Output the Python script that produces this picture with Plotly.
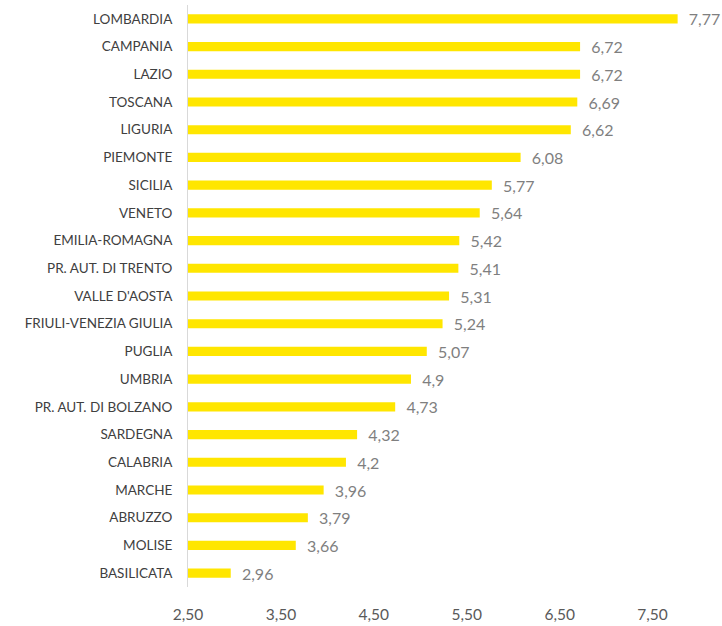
import plotly.graph_objects as go

regions = [
    "LOMBARDIA", "CAMPANIA", "LAZIO", "TOSCANA", "LIGURIA", "PIEMONTE", "SICILIA",
    "VENETO", "EMILIA-ROMAGNA", "PR. AUT. DI TRENTO", "VALLE D'AOSTA",
    "FRIULI-VENEZIA GIULIA", "PUGLIA", "UMBRIA", "PR. AUT. DI BOLZANO",
    "SARDEGNA", "CALABRIA", "MARCHE", "ABRUZZO", "MOLISE", "BASILICATA",
]
values = [7.77, 6.72, 6.72, 6.69, 6.62, 6.08, 5.77, 5.64, 5.42, 5.41, 5.31,
          5.24, 5.07, 4.9, 4.73, 4.32, 4.2, 3.96, 3.79, 3.66, 2.96]
value_labels = ["7,77", "6,72", "6,72", "6,69", "6,62", "6,08", "5,77", "5,64",
                "5,42", "5,41", "5,31", "5,24", "5,07", "4,9", "4,73", "4,32",
                "4,2", "3,96", "3,79", "3,66", "2,96"]
tick_vals = [2.5, 3.5, 4.5, 5.5, 6.5, 7.5]
tick_text = ["2,50", "3,50", "4,50", "5,50", "6,50", "7,50"]

AXIS_MIN = 2.5
FONT = "Lato"

# bars start at the axis minimum, so each is drawn as its length above it
fig = go.Figure(go.Bar(
    y=regions,
    x=[v - AXIS_MIN for v in values],
    base=AXIS_MIN,
    orientation="h",
    marker=dict(color="#FFE600", line=dict(width=0)),
    text=value_labels,
    texttemplate="\u00a0\u00a0%{text}",
    textposition="outside",
    constraintext="none",
    textfont=dict(family=FONT, size=16, color="#7f7f7f"),
    cliponaxis=False,
))

fig.update_layout(
    width=722, height=626,
    margin=dict(l=188, r=22.5, t=5, b=39, autoexpand=False),
    paper_bgcolor="white", plot_bgcolor="white",
    bargap=0.67,
    showlegend=False,
    font=dict(family=FONT, color="#595959"),
)
fig.update_xaxes(
    range=[AXIS_MIN, 8.0],
    tickvals=tick_vals, ticktext=tick_text,
    tickfont=dict(family=FONT, size=15.5, color="#595959"),
    showgrid=False, zeroline=False, showline=False,
    ticks="outside", ticklen=13, tickcolor="white",
)
fig.update_yaxes(
    autorange="reversed",
    tickfont=dict(family=FONT, size=13.5, color="#404040"),
    showgrid=False, zeroline=False,
    showline=True, linecolor="#d9d9d9", linewidth=1,
    ticks="outside", ticklen=12, tickcolor="white",
)

fig.write_html("out.html")
